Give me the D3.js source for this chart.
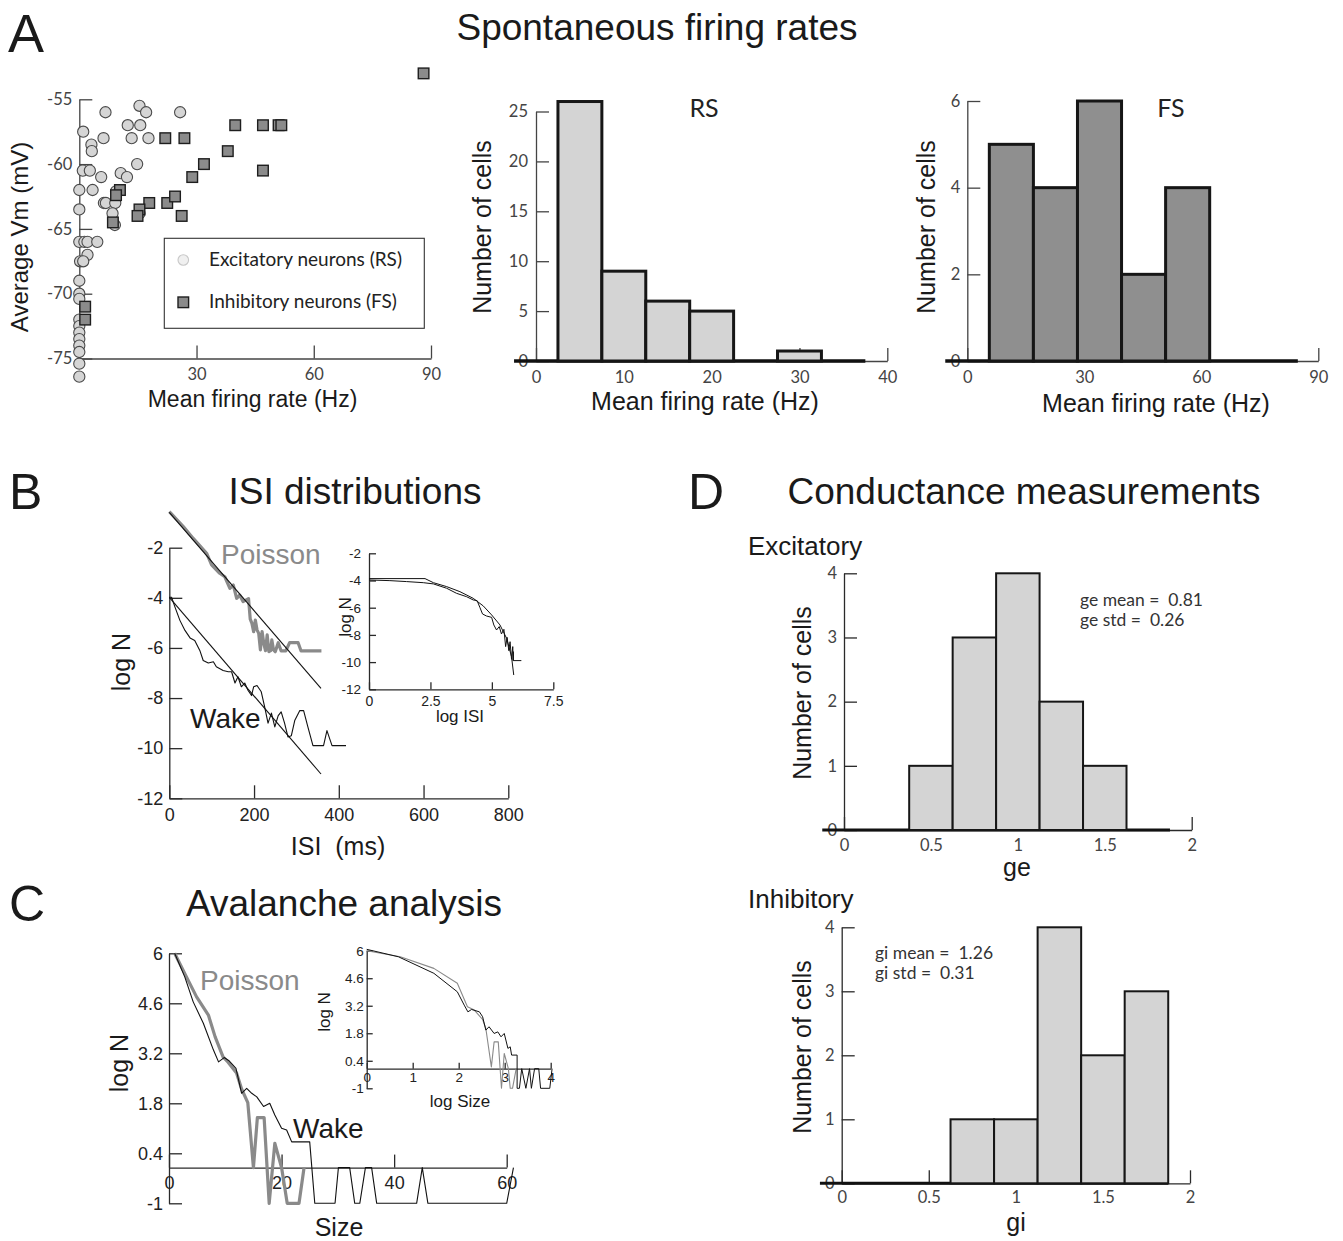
<!DOCTYPE html>
<html>
<head>
<meta charset="utf-8">
<script src="https://cdn.jsdelivr.net/npm/d3@7"></script>
<style>
  body { margin: 0; background: #fff; }
  svg { display: block; }
</style>
</head>
<body>
<svg id="fig" width="1343" height="1241"></svg>
<script>
// ---------------- data ----------------
// A: spontaneous firing rate (Hz) vs average Vm (mV)
const rsCells = [
  [15.4,-55.5],[6.7,-56],[17.1,-56],[25.8,-56],[12.4,-57],[15.6,-57],[1.0,-57.5],
  [6.2,-58],[13.4,-58],[17.7,-58],[3.1,-58.5],[3.2,-59],[14.8,-60],[0.9,-60.5],
  [2.7,-60.5],[10.6,-60.7],[5.6,-61],[12.2,-61],[0,-62],[3.4,-62],[9.4,-62.1],
  [6.3,-63],[6.8,-63],[9.2,-63],[0,-63.5],[8.5,-63.8],[9.1,-64.7],[15.4,-63.8],
  [0,-66],[1.3,-66],[2.1,-66],[4.6,-66],[2.1,-67],[0.2,-67.5],[1.0,-67.5],
  [0,-69],[0,-70],[0,-70.4],[0,-72],[0,-72.5],[0,-73],[0,-73.5],[0,-74],
  [0,-74.5],[0,-75.4],[0,-76.4]
];
const fsCells = [
  [88.1,-53],[39.9,-57],[47.0,-57],[51.0,-57],[51.7,-57],[22.0,-58],[26.9,-58],
  [38.0,-59],[31.9,-60],[47.0,-60.5],[28.9,-61],[10.4,-62],[9.4,-62.4],[17.9,-63],
  [22.5,-63],[24.5,-62.5],[15.4,-63.5],[14.9,-64],[26.2,-64],[8.6,-64.5],
  [1.5,-71],[1.5,-72]
];
const vmTicks = [-55, -60, -65, -70, -75];
const rateTicks = [30, 60, 90];

// A: firing-rate histograms
const rsBinCenters = [0, 5, 10, 15, 20, 25, 30, 35];
const rsBinWidth = 5;
const rsCounts = [0, 26, 9, 6, 5, 0, 1, 0];
const rsCountTicks = [0, 5, 10, 15, 20, 25];
const rsRateTicks = [0, 10, 20, 30, 40];

const fsBinCenters = [0, 11.3, 22.6, 33.9, 45.2, 56.5, 67.8, 79.1];
const fsBinWidth = 11.3;
const fsCounts = [0, 5, 4, 6, 2, 4, 0, 0];
const fsCountTicks = [0, 2, 4, 6];
const fsRateTicks = [0, 30, 60, 90];

// B: ISI distributions, [ISI ms, log N]
const isiPoisson = [
  [0,-0.56],[33,-1.16],[56.5,-1.63],[88,-2.22],[99.8,-2.69],[119,-3.02],[131,-3.16],
  [143,-3.62],[151,-3.49],[159,-4.02],[166,-3.89],[174,-4.15],[187,-4.03],[191,-4.85],
  [195,-5.02],[199,-5.35],[203,-4.89],[207,-5.28],[211,-5.42],[215,-6.08],[219,-5.35],
  [223,-5.82],[227,-6.11],[231,-5.48],[235,-6.15],[239,-6.11],[242,-5.68],[246,-6.08],
  [250,-6.15],[257,-5.79],[264,-6.12],[275,-6.12],[284,-5.79],[304,-5.79],[311,-6.12],
  [359,-6.12]
];
const isiPoissonFit = [[0,-0.59],[358,-7.61]];
const isiWake = [
  [0,-3.98],[5.5,-3.98],[13,-4.35],[25,-4.9],[37,-5.3],[49,-5.6],[60,-5.7],[72,-6.1],
  [80,-6.5],[92,-6.6],[104,-6.55],[111,-6.75],[127,-6.9],[139,-6.95],[147,-6.95],
  [155,-7.4],[162,-7.15],[170,-7.55],[178,-7.4],[186,-7.7],[194,-7.9],[199,-7.55],
  [207,-7.5],[217,-7.75],[225,-8.35],[233,-9.0],[241,-8.6],[249,-9.15],[257,-8.7],
  [264,-8.55],[272,-9.0],[280,-9.55],[288,-9.5],[296,-8.9],[308,-8.5],[317,-8.5],
  [327,-9.15],[339,-9.9],[364,-9.9],[372,-9.3],[380,-9.7],[384,-9.9],[417,-9.9]
];
const isiWakeFit = [[0,-3.98],[358,-11.03]];
const isiTicksX = [0, 200, 400, 600, 800];
const logNTicksB = [-2, -4, -6, -8, -10, -12];

// B inset: [log ISI, log N]
const logIsiFit = [
  [0,-3.86],[2.28,-3.86],[2.62,-4.16],[3.16,-4.45],[3.70,-4.82],[4.24,-5.31],
  [4.65,-5.87],[4.99,-6.53],[5.33,-7.27],[5.60,-8.25],[5.80,-9.60],[5.89,-10.95]
];
const logIsiWake = [
  [0,-3.96],[0.85,-4.01],[1.53,-4.08],[2.21,-4.16],[2.62,-4.25],[3.16,-4.57],
  [3.56,-4.94],[3.97,-5.19],[4.24,-5.43],[4.40,-5.48],[4.51,-5.97],[4.62,-6.46],
  [4.78,-6.61],[4.99,-6.71],[5.08,-7.27],[5.19,-7.64],[5.30,-7.39],[5.39,-7.93],
  [5.49,-7.59],[5.56,-8.86],[5.62,-8.18],[5.69,-9.16],[5.74,-8.50],[5.80,-9.79],
  [5.85,-8.86],[5.87,-9.89],[5.87,-9.23],[5.87,-9.89],[6.2,-9.89]
];
const logIsiTicks = [0, 2.5, 5, 7.5];

// C: avalanche size distributions, [size, log N]
const avPoisson = [
  [1,6.0],[3.1,5.34],[4.9,4.78],[7.0,4.27],[8.2,3.66],[9.6,3.1],[10.5,2.95],[12.0,2.65],
  [12.9,2.2],[14.0,1.82],[15.0,0],[15.7,1.40],[16.9,1.40],[17.8,-1],[18.8,0.68],
  [20.0,0],[21.0,-1],[23.1,-1],[24.0,0]
];
const avWake = [
  [1,6.0],[2.8,5.34],[4.3,4.64],[6.1,4.04],[7.9,3.29],[8.8,2.96],[9.8,3.08],[10.6,3.0],
  [11.9,2.78],[12.9,2.08],[13.8,2.22],[14.7,2.08],[15.6,1.98],[16.8,1.71],[17.9,1.80],
  [18.8,1.47],[20.0,1.10],[20.9,1.05],[21.8,0.72],[25.0,0.72],[25.9,-1],[29.5,-1],
  [30.1,0],[32.1,0],[33.0,-1],[33.9,-1],[34.9,0],[36.0,0],[36.9,-1],[44.0,-1],
  [45.0,0],[46.0,-1],[60.0,-1],[61.2,0]
];
const sizeTicks = [0, 20, 40, 60];
const logNTicksC = [6, 4.6, 3.2, 1.8, 0.4, -1];

// C inset: [log size, log N]
const avLogPoisson = [
  [0,6.0],[0.73,5.69],[1.46,5.10],[1.97,4.34],[2.19,3.15],[2.34,2.98],[2.52,2.50],
  [2.59,2.04],[2.71,0.09],[2.77,1.36],[2.86,1.36],[2.93,-1],[2.99,0.77],[3.08,0],
  [3.12,-1],[3.17,-1],[3.25,0]
];
const avLogWake = [
  [0,6.07],[0.69,5.69],[1.46,4.85],[1.97,3.91],[2.12,3.23],[2.20,2.89],[2.28,3.01],
  [2.45,2.89],[2.52,2.64],[2.59,1.96],[2.66,2.13],[2.77,1.79],[2.85,1.87],[2.92,1.62],
  [2.99,1.79],[3.07,1.03],[3.12,1.11],[3.15,0.69],[3.27,0.69],[3.27,-1],[3.32,-1],
  [3.37,0],[3.46,-1],[3.54,0],[3.58,-1],[3.65,0],[3.74,0],[3.78,-1],[3.98,-1],[4.03,0]
];
const logSizeTicks = [0, 1, 2, 3, 4];

// D: conductance histograms
const gBinCenters = [0, 0.25, 0.5, 0.75, 1, 1.25, 1.5, 1.75];
const gBinWidth = 0.25;
const geCounts = [0, 0, 1, 3, 4, 2, 1, 0];
const giCounts = [0, 0, 0, 1, 1, 4, 2, 3];
const gTicks = [0, 0.5, 1, 1.5, 2];
const gCountTicks = [0, 1, 2, 3, 4];
const geStats = ["ge mean =  0.81", "ge std =  0.26"];
const giStats = ["gi mean =  1.26", "gi std =  0.31"];

// ---------------- drawing ----------------
const SANS = '"Liberation Sans", Arial, Helvetica, sans-serif';
const GEO = 'Lato, "Open Sans", sans-serif';
const svg = d3.select("#fig");
svg.append("rect").attr("width", 1343).attr("height", 1241).attr("fill", "#fff");

function label(x, y, s, o = {}) {
  const t = svg.append("text")
    .attr("x", x).attr("y", y).text(s)
    .attr("font-family", o.family || SANS)
    .attr("font-size", o.size || 16)
    .attr("fill", o.fill || "#1a1a1a")
    .attr("text-anchor", o.anchor || "start")
    .style("white-space", "pre");
  if (o.weight) t.attr("font-weight", o.weight);
  if (o.rotate) t.attr("transform", `rotate(-90 ${x} ${y})`);
  return t;
}

function styleAxis(g, o) {
  g.attr("font-family", null).attr("font-size", null);
  g.select(".domain").attr("stroke", o.color || "#2a2a2a").attr("stroke-width", o.sw || 1.3);
  g.selectAll(".tick line").attr("stroke", o.color || "#2a2a2a").attr("stroke-width", o.sw || 1.3);
  g.selectAll(".tick text")
    .attr("font-family", o.family).attr("font-size", o.size).attr("fill", o.fill || "#333");
}

// y axis with ticks pointing inward (right) and labels on the left
function yAxis(scale, ticks, x0, o) {
  const g = svg.append("g").attr("transform", `translate(${x0},0)`)
    .call(d3.axisLeft(scale).tickValues(ticks).tickSizeInner(-(o.len || 13))
      .tickSizeOuter(0).tickPadding(o.pad).tickFormat(d => String(d)));
  styleAxis(g, o);
  return g;
}
// x axis with ticks pointing up and labels below
function xAxis(scale, ticks, y0, o) {
  const g = svg.append("g").attr("transform", `translate(0,${y0})`)
    .call(d3.axisBottom(scale).tickValues(ticks).tickSizeInner(-(o.len || 13))
      .tickSizeOuter(0).tickPadding(o.pad).tickFormat(d => String(d)));
  styleAxis(g, o);
  return g;
}

function histogram(centers, counts, width, x, y, o) {
  const lo = centers[0] - width / 2, hi = centers[centers.length - 1] + width / 2;
  svg.append("line")
    .attr("x1", x(lo)).attr("x2", x(hi)).attr("y1", y(0)).attr("y2", y(0))
    .attr("stroke", "#111").attr("stroke-width", o.baseSw);
  const bins = centers.map((c, i) => ({ c, n: counts[i] })).filter(d => d.n > 0);
  svg.append("g").selectAll("rect").data(bins).join("rect")
    .attr("x", d => x(d.c - width / 2))
    .attr("width", d => x(d.c + width / 2) - x(d.c - width / 2))
    .attr("y", d => y(d.n))
    .attr("height", d => y(0) - y(d.n))
    .attr("fill", o.fill).attr("stroke", "#161616").attr("stroke-width", o.sw);
}

function curve(data, x, y, color, width) {
  svg.append("path").datum(data)
    .attr("d", d3.line().x(d => x(d[0])).y(d => y(d[1])))
    .attr("fill", "none").attr("stroke", color).attr("stroke-width", width)
    .attr("stroke-linejoin", "round");
}

// ---- panel letters and titles ----
label(8, 52, "A", { size: 54 });
label(657, 40, "Spontaneous firing rates", { size: 37, anchor: "middle" });
label(9, 509, "B", { size: 50 });
label(355, 504, "ISI distributions", { size: 37, anchor: "middle" });
label(9, 921, "C", { size: 50 });
label(344, 916, "Avalanche analysis", { size: 37, anchor: "middle" });
label(688, 509, "D", { size: 50 });
label(1024, 504, "Conductance measurements", { size: 37, anchor: "middle" });

// ---- A: scatter ----
{
  const x = d3.scaleLinear().domain([0, 90]).range([79.3, 431]);
  const y = d3.scaleLinear().domain([-75, -55]).range([358.5, 99.3]);
  yAxis(y, vmTicks, x(0), { pad: 7, family: GEO, size: 16.5, fill: "#444", color: "#444" });
  xAxis(x, rateTicks, y(-75), { pad: 10, family: GEO, size: 16.5, fill: "#444", color: "#444" });

  svg.append("g").selectAll("circle").data(rsCells).join("circle")
    .attr("cx", d => x(d[0])).attr("cy", d => y(d[1])).attr("r", 5.6)
    .attr("fill", "#d5d5d5").attr("stroke", "#4a4a4a").attr("stroke-width", 1.1);
  const s = 10.6;
  svg.append("g").selectAll("rect").data(fsCells).join("rect")
    .attr("x", d => x(d[0]) - s / 2).attr("y", d => y(d[1]) - s / 2)
    .attr("width", s).attr("height", s)
    .attr("fill", "#8b8b8b").attr("stroke", "#1e1e1e").attr("stroke-width", 1.4);

  // legend
  svg.append("rect").attr("x", 164.3).attr("y", 238.3).attr("width", 260).attr("height", 90)
    .attr("fill", "#fff").attr("stroke", "#333").attr("stroke-width", 1.1);
  svg.append("circle").attr("cx", 183.3).attr("cy", 260).attr("r", 5.3)
    .attr("fill", "#f0f0f0").attr("stroke", "#c8c8c8").attr("stroke-width", 1.1);
  svg.append("rect").attr("x", 183.3 - s / 2).attr("y", 302.3 - s / 2).attr("width", s).attr("height", s)
    .attr("fill", "#8b8b8b").attr("stroke", "#1e1e1e").attr("stroke-width", 1.4);
  label(209, 266, "Excitatory neurons (RS)", { family: GEO, size: 19, fill: "#222" });
  label(209, 308, "Inhibitory neurons (FS)", { family: GEO, size: 19, fill: "#222" });

  label(28, 237, "Average Vm (mV)", { size: 24, anchor: "middle", rotate: true });
  label(252.5, 407, "Mean firing rate (Hz)", { size: 23, anchor: "middle" });
}

// ---- A: RS histogram ----
{
  const x = d3.scaleLinear().domain([0, 40]).range([536, 887.3]);
  const y = d3.scaleLinear().domain([0, 25]).range([361, 111.5]);
  yAxis(y, rsCountTicks, x(0), { pad: 8, family: GEO, size: 16.5, fill: "#444", color: "#444" });
  xAxis(x, rsRateTicks, y(0), { pad: 10, family: GEO, size: 16.5, fill: "#444", color: "#444" });
  histogram(rsBinCenters, rsCounts, rsBinWidth, x, y, { fill: "#d4d4d4", sw: 3, baseSw: 3.6 });
  label(704, 117, "RS", { family: GEO, size: 25, anchor: "middle", fill: "#222" });
  label(491, 227, "Number of cells", { size: 25, anchor: "middle", rotate: true });
  label(705, 410, "Mean firing rate (Hz)", { size: 25, anchor: "middle" });
}

// ---- A: FS histogram ----
{
  const x = d3.scaleLinear().domain([0, 90]).range([967.3, 1318.3]);
  const y = d3.scaleLinear().domain([0, 6]).range([361, 101]);
  yAxis(y, fsCountTicks, x(0), { pad: 7, family: GEO, size: 16.5, fill: "#444", color: "#444" });
  xAxis(x, fsRateTicks, y(0), { pad: 10, family: GEO, size: 16.5, fill: "#444", color: "#444" });
  histogram(fsBinCenters, fsCounts, fsBinWidth, x, y, { fill: "#8f8f8f", sw: 3, baseSw: 3.6 });
  label(1171, 117, "FS", { family: GEO, size: 25, anchor: "middle", fill: "#222" });
  label(935, 227, "Number of cells", { size: 25, anchor: "middle", rotate: true });
  label(1156, 412, "Mean firing rate (Hz)", { size: 25, anchor: "middle" });
}

// ---- B: ISI distributions ----
{
  const x = d3.scaleLinear().domain([0, 800]).range([169.3, 508.3]);
  const y = d3.scaleLinear().domain([-12, -2]).range([798.3, 547.7]);
  yAxis(y, logNTicksB, x(0), { pad: 6, family: SANS, size: 18, fill: "#222" });
  xAxis(x, isiTicksX, y(-12), { pad: 10, family: SANS, size: 18, fill: "#222" });
  curve(isiPoisson, x, y, "#8a8a8a", 3.2);
  curve(isiPoissonFit, x, y, "#111", 1.1);
  curve(isiWake, x, y, "#111", 1.1);
  curve(isiWakeFit, x, y, "#111", 1.1);
  label(221, 564, "Poisson", { size: 28, fill: "#8a8a8a" });
  label(190, 728, "Wake", { size: 28, fill: "#1a1a1a" });
  label(130, 662, "log N", { size: 25, anchor: "middle", rotate: true });
  label(338, 855, "ISI  (ms)", { size: 25, anchor: "middle" });

  // inset: log-log view
  const xi = d3.scaleLinear().domain([0, 7.5]).range([369, 553.3]);
  const yi = d3.scaleLinear().domain([-12, -2]).range([689.3, 553.3]);
  yAxis(yi, logNTicksB, xi(0), { len: 7, pad: 8, family: SANS, size: 13.5, fill: "#222" });
  xAxis(xi, logIsiTicks, yi(-12), { len: 7, pad: 7, family: SANS, size: 14, fill: "#222" });
  curve(logIsiFit, xi, yi, "#111", 1);
  curve(logIsiWake, xi, yi, "#111", 1);
  label(351, 617, "log N", { size: 17, anchor: "middle", rotate: true });
  label(460, 722, "log ISI", { size: 17, anchor: "middle" });
}

// ---- C: avalanche analysis ----
{
  const x = d3.scaleLinear().domain([0, 60]).range([169, 506.7]);
  const y = d3.scaleLinear().domain([-1, 6]).range([1203.3, 953.3]);
  yAxis(y, logNTicksC, x(0), { pad: 6, family: SANS, size: 18, fill: "#222" });
  xAxis(x, sizeTicks, y(0), { pad: 9, family: SANS, size: 18, fill: "#222" });
  curve(avPoisson, x, y, "#8a8a8a", 3.2);
  curve(avWake, x, y, "#111", 1.1);
  label(200, 990, "Poisson", { size: 28, fill: "#8a8a8a" });
  label(293, 1138, "Wake", { size: 28, fill: "#1a1a1a" });
  label(128, 1063, "log N", { size: 25, anchor: "middle", rotate: true });
  label(339, 1236, "Size", { size: 25, anchor: "middle" });

  // inset: log-log view
  const xi = d3.scaleLinear().domain([0, 4]).range([366.7, 550.7]);
  const yi = d3.scaleLinear().domain([-1, 6]).range([1088.3, 950.7]);
  yAxis(yi, logNTicksC, xi(0), { len: 6, pad: 3, family: SANS, size: 13.5, fill: "#222" });
  xAxis(xi, logSizeTicks, yi(0), { len: 6, pad: 4, family: SANS, size: 13.5, fill: "#222" });
  curve(avLogPoisson, xi, yi, "#8a8a8a", 1.1);
  curve(avLogWake, xi, yi, "#111", 1);
  label(330, 1012, "log N", { size: 17, anchor: "middle", rotate: true });
  label(460, 1107, "log Size", { size: 17, anchor: "middle" });
}

// ---- D: conductance histograms ----
{
  const x = d3.scaleLinear().domain([0, 2]).range([844, 1191.7]);
  const y = d3.scaleLinear().domain([0, 4]).range([830, 573.3]);
  yAxis(y, gCountTicks, x(0), { pad: 7, family: GEO, size: 16.5, fill: "#444" });
  xAxis(x, gTicks, y(0), { pad: 9, family: GEO, size: 16.5, fill: "#444" });
  histogram(gBinCenters, geCounts, gBinWidth, x, y, { fill: "#d4d4d4", sw: 2, baseSw: 3 });
  label(748, 555, "Excitatory", { size: 26 });
  geStats.forEach((s, i) => label(1080, 606 + i * 19.5, s, { family: GEO, size: 17.5, fill: "#333" }));
  label(811, 693, "Number of cells", { size: 25, anchor: "middle", rotate: true });
  label(1017, 876, "ge", { size: 25, anchor: "middle" });
}
{
  const x = d3.scaleLinear().domain([0, 2]).range([841.7, 1190]);
  const y = d3.scaleLinear().domain([0, 4]).range([1183.3, 927.3]);
  yAxis(y, gCountTicks, x(0), { pad: 7, family: GEO, size: 16.5, fill: "#444" });
  xAxis(x, gTicks, y(0), { pad: 8, family: GEO, size: 16.5, fill: "#444" });
  histogram(gBinCenters, giCounts, gBinWidth, x, y, { fill: "#d4d4d4", sw: 2, baseSw: 3 });
  label(748, 908, "Inhibitory", { size: 26 });
  giStats.forEach((s, i) => label(875, 959 + i * 19.5, s, { family: GEO, size: 17.5, fill: "#333" }));
  label(811, 1047, "Number of cells", { size: 25, anchor: "middle", rotate: true });
  label(1016, 1231, "gi", { size: 25, anchor: "middle" });
}
</script>
</body>
</html>
